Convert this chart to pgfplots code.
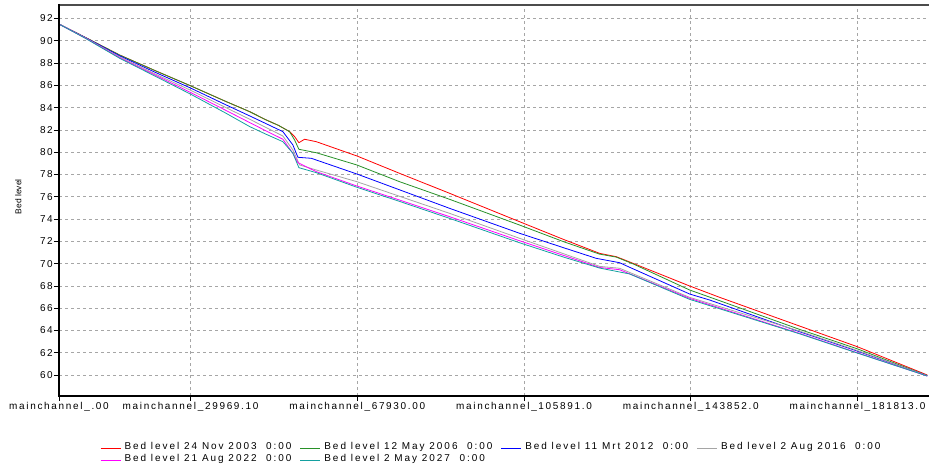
\documentclass[border=0pt]{standalone}
\usepackage{pgfplots}
\pgfplotsset{compat=1.18}
\usepackage{fontspec}
\setmainfont{Liberation Sans}
\newfontfamily\tickfont[LetterSpace=17]{Liberation Sans}
\newfontfamily\legfont[LetterSpace=20]{Liberation Sans}
\definecolor{cRed}{RGB}{255,0,0}
\definecolor{cGreen}{RGB}{40,145,40}
\definecolor{cBlue}{RGB}{0,0,255}
\definecolor{cGray}{RGB}{165,165,165}
\definecolor{cMag}{RGB}{255,0,255}
\definecolor{cTeal}{RGB}{20,160,160}
\begin{document}
\begin{tikzpicture}
\begin{axis}[
  at={(0,0)}, anchor=south west,
  scale only axis, width=870bp, height=391bp,
  xmin=0, xmax=198100, ymin=58.115, ymax=93.21,
  scaled x ticks=false,
  xtick={0,29969.1,67930,105891,143852,181813},
  xticklabels={mainchannel\_.00,mainchannel\_29969.10,mainchannel\_67930.00,mainchannel\_105891.0,mainchannel\_143852.0,mainchannel\_181813.0},
  minor x tick num=3,
  ytick={60,62,...,92},
  /pgf/number format/assume math mode=true,
  tick pos=left, tick align=outside,
  major tick length=5bp, minor tick length=3bp,
  tick style={black, line width=0.6bp},
  tick label style={font=\fontsize{10}{12}\tickfont, inner sep=1bp},
  grid=major,
  major grid style={gray!70, line width=0.7bp, dash pattern=on 3bp off 3bp},
  axis line style={draw=none},
  ylabel={Bed level},
  ylabel style={at={(axis description cs:-0.0468,0.51)}, anchor=center, font=\fontsize{8.5}{10}\selectfont},
  no markers,
  every axis plot/.append style={line width=0.8bp},
  legend columns=4,
  legend cell align=left,
  legend style={draw=none, fill=none, at={(0.0437,-0.112)}, anchor=north west,
    font=\fontsize{10}{12}\legfont, row sep=0bp,
    nodes={inner sep=0.5bp, text height=7.5bp, text depth=3.5bp},
    /tikz/every odd column/.append style={column sep=3bp},
    /tikz/every even column/.append style={column sep=8bp}},
  legend image code/.code={\draw[#1,line width=0.8bp] (0bp,0bp) -- (20bp,0bp);},
]
\addplot[cRed] coordinates {
(0,91.50)(6000,90.30)(13800,88.72)(22000,87.30)(30000,85.95)(38000,84.55)(43450,83.63)(47200,82.89)(50000,82.40)(52510,81.84)(53650,81.40)(54620,80.85)(55920,81.16)(58590,80.94)(67830,79.66)(77550,78.10)(88930,76.31)(104870,73.76)(115000,72.15)(123090,70.92)(126900,70.62)(130680,70.03)(143590,67.99)(150430,66.97)(168590,64.40)(181770,62.54)(197700,60.00)};
\addlegendentry{Bed level 24 Nov 2003\ \ 0:00}
\addplot[cGreen] coordinates {
(0,91.50)(6000,90.30)(13800,88.72)(22000,87.30)(30000,85.95)(38000,84.55)(43450,83.63)(47200,82.89)(50000,82.40)(52510,81.84)(53650,81.09)(54620,80.26)(58590,79.95)(67830,78.85)(77550,77.35)(88930,75.77)(104870,73.46)(115000,71.95)(123090,70.85)(126900,70.58)(130680,69.98)(143590,67.63)(150430,66.67)(168590,64.10)(181770,62.35)(197700,59.95)};
\addlegendentry{Bed level 12 May 2006\ \ 0:00}
\addplot[cBlue] coordinates {
(0,91.50)(6000,90.28)(13800,88.65)(22000,87.15)(30000,85.75)(38000,84.25)(43450,83.25)(47200,82.55)(50980,81.84)(53260,80.64)(54400,79.54)(57450,79.45)(67830,78.04)(77550,76.62)(88930,74.96)(104870,72.72)(115000,71.41)(122340,70.47)(127650,70.08)(129920,69.67)(143590,67.27)(148150,66.73)(168590,63.89)(181770,62.15)(197700,59.93)};
\addlegendentry{Bed level 11 Mrt 2012\ \ 0:00}
\addplot[cGray] coordinates {
(0,91.50)(6000,90.26)(13800,88.55)(22000,87.00)(30000,85.55)(38000,84.00)(43450,82.95)(47200,82.20)(50980,81.45)(53260,80.20)(54790,78.85)(58590,78.40)(67830,77.35)(77550,76.04)(88930,74.51)(104870,72.27)(115000,70.87)(123090,69.75)(127650,69.58)(143590,66.97)(168590,63.95)(181770,62.20)(197700,59.93)};
\addlegendentry{Bed level 2 Aug 2016\ \ 0:00}
\addplot[cMag] coordinates {
(0,91.50)(6000,90.24)(13800,88.48)(22000,86.90)(30000,85.35)(38000,83.75)(43450,82.65)(47200,81.90)(50980,81.16)(53260,79.90)(54400,79.06)(58590,78.25)(67830,76.96)(77550,75.70)(88930,74.21)(104870,72.05)(115000,70.72)(123090,69.65)(127650,69.45)(143590,66.88)(168590,63.74)(181770,62.00)(197700,59.91)};
\addlegendentry{Bed level 21 Aug 2022\ \ 0:00}
\addplot[cTeal] coordinates {
(0,91.50)(6000,90.22)(13800,88.43)(22000,86.80)(30000,85.20)(38000,83.50)(43450,82.29)(47200,81.60)(50980,80.94)(53260,79.90)(54620,78.61)(58590,78.16)(67830,76.85)(77550,75.58)(88930,74.06)(104870,71.87)(115000,70.57)(123090,69.60)(129920,69.07)(143590,66.79)(168590,63.70)(181770,61.97)(197700,59.91)};
\addlegendentry{Bed level 2 May 2027\ \ 0:00}
\end{axis}
\draw[black!70, line width=1.2bp] (0bp,391bp) -- (870bp,391bp);
\draw[black, line width=2bp] (0bp,392bp) -- (0bp,0bp) -- (871bp,0bp);
\pgfresetboundingbox
\path[use as bounding box] (-59bp,-72bp) rectangle (870bp,396bp);
\end{tikzpicture}
\end{document}
